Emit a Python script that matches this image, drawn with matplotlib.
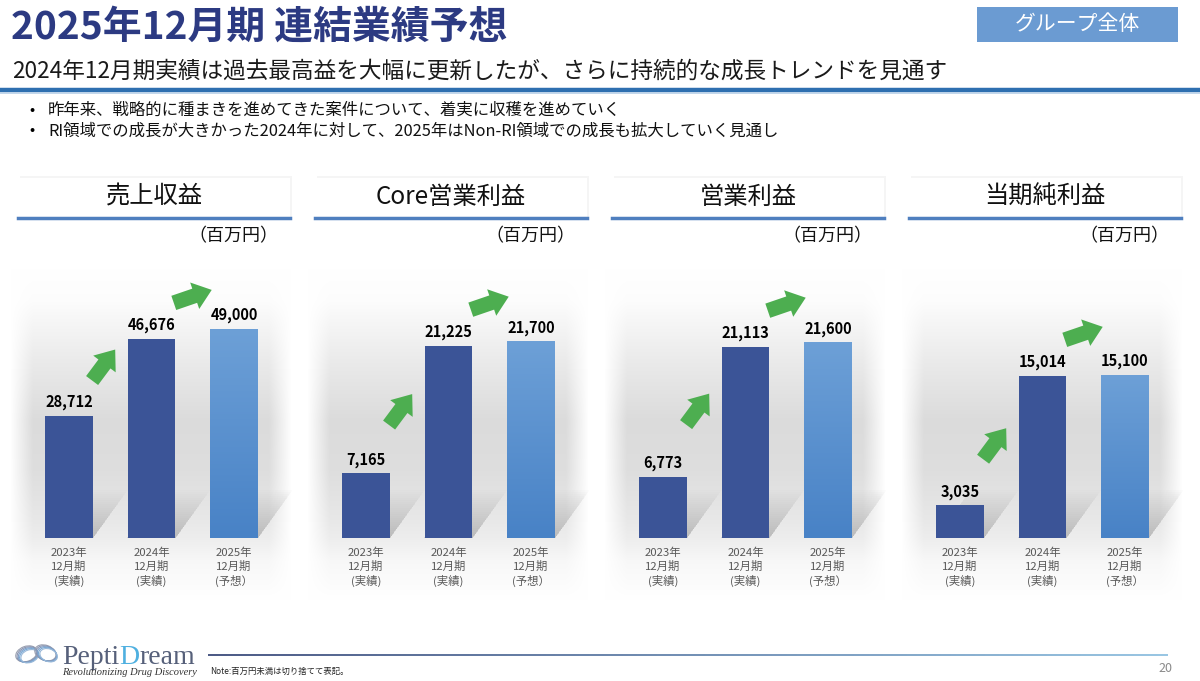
import numpy as np
import matplotlib.pyplot as plt
from matplotlib import patches as mpatches
from matplotlib.collections import LineCollection
from matplotlib.colors import to_rgb, LinearSegmentedColormap

plt.rcParams['font.family'] = ['Noto Sans CJK JP', 'DejaVu Sans']

# データ (百万円)
periods = ['2023年\n12月期\n(実績)', '2024年\n12月期\n(実績)', '2025年\n12月期\n(予想）']
metric_names = ['売上収益', 'Core営業利益', '営業利益', '当期純利益']
revenue = [28712, 46676, 49000]
core_op_profit = [7165, 21225, 21700]
op_profit = [6773, 21113, 21600]
net_profit = [3035, 15014, 15100]
unit_label = '（百万円）'

title = '2025年12月期 連結業績予想'
subtitle = '2024年12月期実績は過去最高益を大幅に更新したが、さらに持続的な成長トレンドを見通す'
bullets = ['昨年来、戦略的に種まきを進めてきた案件について、着実に収穫を進めていく',
           'RI領域での成長が大きかった2024年に対して、2025年はNon-RI領域での成長も拡大していく見通し']
badge = 'グループ全体'
note = 'Note:百万円未満は切り捨てて表記。'
page_no = '20'

series = [revenue, core_op_profit, op_profit, net_profit]
y_tops = [63300, 29800, 29800, 25000]      # 各パネルの縦軸上限
arrow_lift = [35, 48, 52, 46]              # 1本目の矢印の位置 (px)

W, H = 1200, 681
dark_bar = '#3b5497'
green = '#4dae50'


def frac(x, y, w, h):
    return [x / W, 1 - (y + h) / H, w / W, h / H]


fig = plt.figure(figsize=(12, 6.81), dpi=100)

# 背景グラデーション
ys = np.arange(332) + 268
gray = np.interp(ys, [268, 300, 360, 420, 470, 520, 538, 560, 600],
                 [1.0, 0.99, 0.92, 0.86, 0.87, 0.91, 0.93, 0.97, 1.0])
xs = np.linspace(0, 1, 282)
hfade = np.clip(np.minimum(xs, 1 - xs) / 0.08, 0, 1)
bg = 1 - (1 - gray[:, None]) * hfade[None, :]
bg_img = np.dstack([bg, bg, bg])

axes = []
bw = 0.58
for k, vals in enumerate(series):
    left = 10 + 297 * k
    ax = fig.add_axes(frac(left, 268, 282, 332))
    ax.set_axis_off()
    ax.imshow(bg_img, extent=[0, 1, 0, 1], transform=ax.transAxes,
              aspect='auto', zorder=0)
    top = y_tops[k]
    x = np.arange(len(vals))

    # 影 (ぼかし風に重ねる)
    dx, dy = 0.42, 48 / 270 * top
    n = 24
    for i, v in enumerate(vals):
        for j in range(n):
            f = (j + 1) / n
            poly = mpatches.Polygon([(i - bw / 2, 0), (i + bw / 2, 0),
                                     (i + bw / 2 + dx * f, dy * f),
                                     (i - bw / 2 + dx * f, dy * f)],
                                    closed=True, fc='#6a6a6a', ec='none',
                                    alpha=0.016, zorder=1)
            ax.add_patch(poly)

    bars = ax.bar(x, vals, width=bw, color=[dark_bar, dark_bar, '#5b8fcf'], zorder=3)

    # 予想バーのグラデーション
    c0, c1 = np.array(to_rgb('#6da0d7')), np.array(to_rgb('#4882c6'))
    t = np.linspace(0, 1, 100)[:, None]
    grad = (c0 * (1 - t) + c1 * t)[:, None, :]
    b = bars[2]
    im = ax.imshow(grad, extent=[b.get_x(), b.get_x() + b.get_width(), 0, b.get_height()],
                   aspect='auto', zorder=4)
    im.set_clip_path(b)

    for i, v in enumerate(vals):
        ax.annotate(f'{v:,}', (i, v), xytext=(0, 4), textcoords='offset points',
                    ha='center', va='bottom', fontsize=10.5, fontweight='bold',
                    color='black', zorder=6)
        ax.annotate(periods[i], (i, 0), xytext=(0, -7), textcoords='offset points',
                    ha='center', va='top', fontsize=8.2, color='#595959',
                    linespacing=1.3, zorder=6)

    ax.set_xlim(-59 / 82.5, (282 - 59) / 82.5)
    ax.set_ylim(-top * 62 / 270, top)
    axes.append(ax)

# ページ全体の要素 (ピクセル座標)
ov = fig.add_axes([0, 0, 1, 1], zorder=10)
ov.set_xlim(0, W)
ov.set_ylim(H, 0)
ov.set_axis_off()
ov.patch.set_visible(False)

ov.text(11, 27, title, fontsize=28, fontweight='bold', color='#2c3a82', va='center')
ov.text(12, 71, subtitle, fontsize=16.3, color='#1a1a1a', va='center')
ov.plot([0, W], [89.5, 89.5], color='#2e6fb0', lw=3.2)
ov.plot([0, W], [92.5, 92.5], color='#b8d0e8', lw=1.2)

for y, txt in zip([110, 131], bullets):
    ov.text(29, y, '•', fontsize=11, va='center')
    ov.text(48, y, txt, fontsize=11.8, va='center', color='#111111')

ov.add_patch(mpatches.Rectangle((977, 7), 201, 35, fc='#6b9bd2', ec='none'))
ov.text(1077, 24.5, badge, fontsize=15, color='white', ha='center', va='center')

for k, name in enumerate(metric_names):
    x0, x1 = 18 + 297 * k, 290 + 297 * k
    ov.add_patch(mpatches.Rectangle((x0 + 2, 176), x1 - x0, 42, fc='#f5f5f5', ec='none'))
    ov.add_patch(mpatches.Rectangle((x0, 178), x1 - x0, 40, fc='white', ec='none'))
    ov.plot([x0, x1], [218, 218], color='#4f7fbf', lw=2.5)
    ov.text((x0 + x1) / 2, 197, name, fontsize=17.5, ha='center', va='center', color='#111111')
    ov.text(x1 - 12, 236, unit_label, fontsize=13, ha='right', va='center', color='#111111')


def to_ov(ax, x, v):
    p = ax.transData.transform((x, v))
    return ov.transData.inverted().transform(p)


# 緑の矢印
for k, (ax, vals) in enumerate(zip(axes, series)):
    lift = arrow_lift[k]
    tail = to_ov(ax, 0.28, vals[0]) + np.array([0, -lift])
    head = to_ov(ax, 0.56, vals[0]) + np.array([0, -lift - 31])
    tail2 = to_ov(ax, 1.27, vals[1]) + np.array([0, -36])
    head2 = to_ov(ax, 1.73, vals[1]) + np.array([0, -49])
    for a, b in [(tail, head), (tail2, head2)]:
        ov.add_patch(mpatches.FancyArrow(a[0], a[1], b[0] - a[0], b[1] - a[1],
                                         width=15, head_width=28, head_length=18,
                                         length_includes_head=True, color=green, lw=0))

# フッター
for i, (cx, cy) in enumerate([(28, 655), (47, 654)]):
    for j in range(5):
        col = ['#9aa0b0', '#8a94b0', '#7e9cc4', '#74a6d4', '#9ab8d8'][j]
        ov.add_patch(mpatches.Ellipse((cx + (j - 2) * 0.8, cy + (j - 2) * 0.6),
                                      22 - j, 15 - j * 0.6, angle=-20 if i == 0 else 20,
                                      fill=False, ec=col, lw=0.8))

r = fig.canvas.get_renderer()
xp = 62
for part, col in [('Pepti', '#56607a'), ('D', '#4fb0e0'), ('ream', '#56607a')]:
    t = ov.text(xp, 664, part, fontsize=20, family='Liberation Serif', color=col,
                va='baseline')
    xp += t.get_window_extent(r).width
ov.text(62, 675, 'Revolutionizing Drug Discovery', fontsize=7.5, family='Liberation Serif',
        style='italic', color='#333333', va='baseline')

lx = np.linspace(208, 1168, 200)
segs = [[(lx[i], 655), (lx[i + 1], 655)] for i in range(len(lx) - 1)]
lc = LineCollection(segs, cmap=LinearSegmentedColormap.from_list('ft', ['#3b4a7a', '#8fc0e0']),
                    lw=1.3)
lc.set_array(np.linspace(0, 1, len(segs)))
ov.add_collection(lc)
ov.text(210, 671, note, fontsize=6.0, va='center', color='#222222')
ov.text(1172, 668, page_no, fontsize=9, ha='right', va='center', color='#8a8a8a')

fig.savefig('out.png', dpi=100)
